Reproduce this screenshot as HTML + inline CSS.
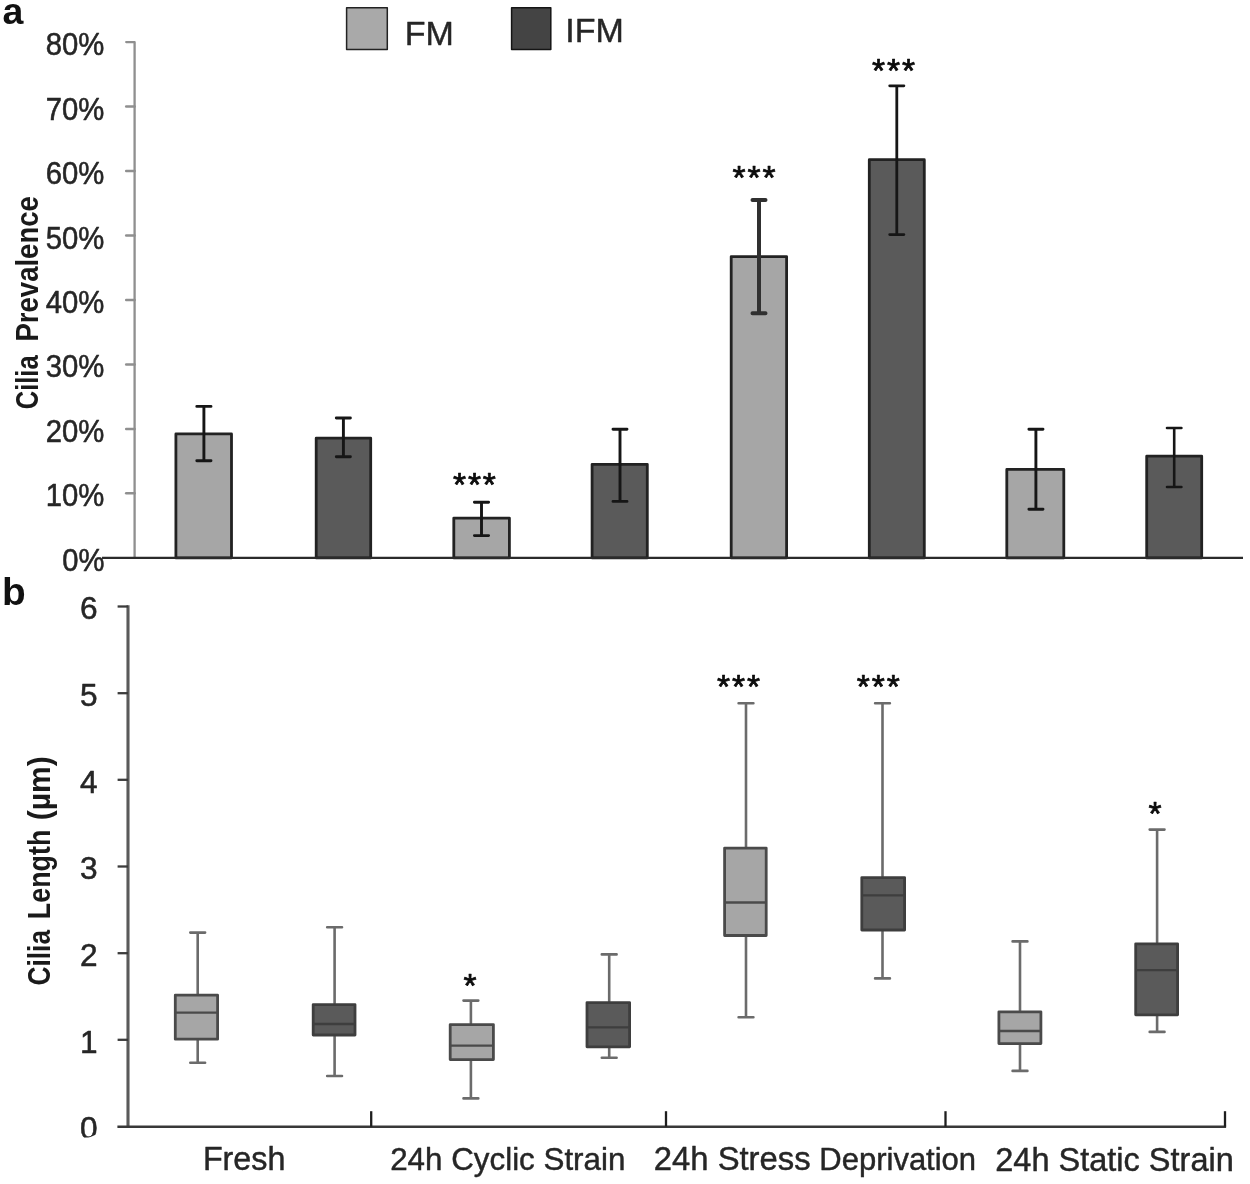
<!DOCTYPE html>
<html>
<head>
<meta charset="utf-8">
<title>Cilia prevalence and length</title>
<style>
html,body{margin:0;padding:0;background:#ffffff;}
body{width:1250px;height:1184px;overflow:hidden;position:relative;font-family:"Liberation Sans", sans-serif;}
</style>
</head>
<body>
<svg width="1250" height="1184" viewBox="0 0 1250 1184" style="display:block;position:absolute;left:0;top:0;filter:blur(0.55px)" stroke-linejoin="round" font-family='"Liberation Sans", sans-serif'>
<rect x="0" y="0" width="1250" height="1184" fill="#ffffff"/>
<g stroke="#8f8f8f" fill="none" stroke-linejoin="round" stroke-linecap="round">
<path d="M126.2 42.1H134.6V557.8" stroke-width="2.3"/>
<line x1="126.2" y1="106.6" x2="134.6" y2="106.6" stroke-width="2.5"/>
<line x1="126.2" y1="171.0" x2="134.6" y2="171.0" stroke-width="2.5"/>
<line x1="126.2" y1="235.5" x2="134.6" y2="235.5" stroke-width="2.5"/>
<line x1="126.2" y1="299.9" x2="134.6" y2="299.9" stroke-width="2.5"/>
<line x1="126.2" y1="364.4" x2="134.6" y2="364.4" stroke-width="2.5"/>
<line x1="126.2" y1="428.9" x2="134.6" y2="428.9" stroke-width="2.5"/>
<line x1="126.2" y1="493.3" x2="134.6" y2="493.3" stroke-width="2.5"/>
</g>
<g fill="#262626" stroke="#262626" stroke-width="0.55" font-size="31.4" text-anchor="end">
<text x="104.4" y="55.1" textLength="58.6" lengthAdjust="spacingAndGlyphs">80%</text>
<text x="104.4" y="119.6" textLength="58.6" lengthAdjust="spacingAndGlyphs">70%</text>
<text x="104.4" y="184.0" textLength="58.6" lengthAdjust="spacingAndGlyphs">60%</text>
<text x="104.4" y="248.5" textLength="58.6" lengthAdjust="spacingAndGlyphs">50%</text>
<text x="104.4" y="312.9" textLength="58.6" lengthAdjust="spacingAndGlyphs">40%</text>
<text x="104.4" y="377.4" textLength="58.6" lengthAdjust="spacingAndGlyphs">30%</text>
<text x="104.4" y="441.9" textLength="58.6" lengthAdjust="spacingAndGlyphs">20%</text>
<text x="104.4" y="506.3" textLength="58.6" lengthAdjust="spacingAndGlyphs">10%</text>
<text x="104.4" y="570.8" textLength="42.2" lengthAdjust="spacingAndGlyphs">0%</text>
</g>
<rect x="175.9" y="433.9" width="55.6" height="124.0" fill="#a6a6a6" stroke="#222222" stroke-width="2.8"/>
<rect x="316.2" y="438.2" width="54.5" height="119.7" fill="#5a5a5a" stroke="#222222" stroke-width="2.8"/>
<rect x="453.8" y="518.1" width="55.6" height="39.8" fill="#a6a6a6" stroke="#222222" stroke-width="2.8"/>
<rect x="592.1" y="464.3" width="55.2" height="93.6" fill="#5a5a5a" stroke="#222222" stroke-width="2.8"/>
<rect x="731.2" y="256.6" width="55.4" height="301.3" fill="#a6a6a6" stroke="#222222" stroke-width="2.8"/>
<rect x="869.3" y="159.7" width="55.0" height="398.2" fill="#5a5a5a" stroke="#222222" stroke-width="2.8"/>
<rect x="1006.8" y="469.4" width="57.0" height="88.5" fill="#a6a6a6" stroke="#222222" stroke-width="2.8"/>
<rect x="1146.7" y="456.2" width="55.0" height="101.7" fill="#5a5a5a" stroke="#222222" stroke-width="2.8"/>
<line x1="102" y1="557.8" x2="1243" y2="557.8" stroke="#2b2b2b" stroke-width="2.2"/>
<g fill="none" stroke-linecap="round">
<path d="M196.8 406.4H211.0M196.8 460.7H211.0M203.9 406.4V460.7" stroke="#161616" stroke-width="2.9"/>
<path d="M336.3 418.0H350.4M336.3 456.8H350.4M343.4 418.0V456.8" stroke="#161616" stroke-width="2.9"/>
<path d="M474.4 502.3H488.6M474.4 535.6H488.6M481.5 502.3V535.6" stroke="#161616" stroke-width="2.9"/>
<path d="M613.0 429.2H627.0M613.0 501.4H627.0M620.0 429.2V501.4" stroke="#161616" stroke-width="2.9"/>
<path d="M752.5 200.1H765.5M752.5 313.2H765.5M759.0 200.1V313.2" stroke="#303030" stroke-width="4.0"/>
<path d="M889.7 85.8H903.9M889.7 234.6H903.9M896.8 85.8V234.6" stroke="#161616" stroke-width="2.8"/>
<path d="M1028.9 429.2H1043.0M1028.9 509.2H1043.0M1035.9 429.2V509.2" stroke="#161616" stroke-width="2.9"/>
<path d="M1167.0 428.0H1181.4M1167.0 487.0H1181.4M1174.2 428.0V487.0" stroke="#161616" stroke-width="2.6"/>
</g>
<text x="452.9" y="496.1" font-size="33.5" letter-spacing="1.95" fill="#0c0c0c" stroke="#0c0c0c" stroke-width="0.75">***</text>
<text x="732.6" y="189.3" font-size="33.5" letter-spacing="1.95" fill="#0c0c0c" stroke="#0c0c0c" stroke-width="0.75">***</text>
<text x="872.1" y="81.9" font-size="33.5" letter-spacing="1.95" fill="#0c0c0c" stroke="#0c0c0c" stroke-width="0.75">***</text>
<rect x="346.6" y="7.7" width="40.7" height="41.7" fill="#a9a9a9" stroke="#222222" stroke-width="1.5"/>
<rect x="511.6" y="7.7" width="39.2" height="41.7" fill="#444444" stroke="#151515" stroke-width="1.5"/>
<text x="404.8" y="45.2" font-size="34" fill="#262626" stroke="#262626" stroke-width="0.45">FM</text>
<text x="565.3" y="41.9" font-size="34" fill="#262626" stroke="#262626" stroke-width="0.45">IFM</text>
<text x="2.6" y="23.9" font-size="37.5" font-weight="bold" fill="#111">a</text>
<text x="2.0" y="605.3" font-size="38.8" font-weight="bold" fill="#111">b</text>
<text transform="translate(38.0,409.3) rotate(-90)" font-size="31.5" font-weight="bold" fill="#1a1a1a" textLength="54.0" lengthAdjust="spacingAndGlyphs">Cilia</text>
<text transform="translate(38.0,341.6) rotate(-90)" font-size="31.5" font-weight="bold" fill="#1a1a1a" textLength="145.5" lengthAdjust="spacingAndGlyphs">Prevalence</text>
<text transform="translate(49.6,985.5) rotate(-90)" font-size="31.5" font-weight="bold" fill="#1a1a1a" textLength="55.5" lengthAdjust="spacingAndGlyphs">Cilia</text>
<text transform="translate(49.6,919.2) rotate(-90)" font-size="31.5" font-weight="bold" fill="#1a1a1a" textLength="89.5" lengthAdjust="spacingAndGlyphs">Length</text>
<text transform="translate(49.6,820.2) rotate(-90)" font-size="31.5" font-weight="bold" fill="#1a1a1a" textLength="64.0" lengthAdjust="spacingAndGlyphs">(µm)</text>
<g fill="none" stroke-linecap="butt">
<line x1="128.0" y1="605.3" x2="128.0" y2="1126.7" stroke="#5a5a5a" stroke-width="3.1"/>
<line x1="117.6" y1="606.5" x2="128.0" y2="606.5" stroke="#3c3c3c" stroke-width="2.3"/>
<line x1="117.6" y1="693.2" x2="128.0" y2="693.2" stroke="#3c3c3c" stroke-width="2.3"/>
<line x1="117.6" y1="779.8" x2="128.0" y2="779.8" stroke="#3c3c3c" stroke-width="2.3"/>
<line x1="117.6" y1="866.5" x2="128.0" y2="866.5" stroke="#3c3c3c" stroke-width="2.3"/>
<line x1="117.6" y1="953.2" x2="128.0" y2="953.2" stroke="#3c3c3c" stroke-width="2.3"/>
<line x1="117.6" y1="1039.8" x2="128.0" y2="1039.8" stroke="#3c3c3c" stroke-width="2.3"/>
<line x1="117.4" y1="1126.7" x2="1226.1" y2="1126.7" stroke="#383838" stroke-width="2.6"/>
<line x1="371.2" y1="1111.2" x2="371.2" y2="1126.7" stroke="#1e1e1e" stroke-width="2.3"/>
<line x1="666.0" y1="1111.2" x2="666.0" y2="1126.7" stroke="#1e1e1e" stroke-width="2.3"/>
<line x1="945.5" y1="1111.2" x2="945.5" y2="1126.7" stroke="#1e1e1e" stroke-width="2.3"/>
<line x1="1225.0" y1="1111.2" x2="1225.0" y2="1126.7" stroke="#1e1e1e" stroke-width="2.3"/>
</g>
<clipPath id="clip0"><rect x="0" y="0" width="1250" height="1137.6"/></clipPath>
<g fill="#262626" stroke="#262626" stroke-width="0.55" font-size="31.6" text-anchor="middle" clip-path="url(#clip0)">
<text x="88.8" y="619.2">6</text>
<text x="88.8" y="705.9">5</text>
<text x="88.8" y="792.5">4</text>
<text x="88.8" y="879.2">3</text>
<text x="88.8" y="965.9">2</text>
<text x="88.8" y="1052.5">1</text>
<text x="88.8" y="1139.2">0</text>
</g>
<polygon points="87.0,1138.6 98.5,1138.6 98.5,1133.4" fill="#ffffff"/>
<path d="M197.7 932.6V993.8M197.7 1040.6V1062.7M190.3 932.6H205.1M190.3 1062.7H205.1" stroke="#6b6b6b" stroke-width="2.6" fill="none" stroke-linecap="round"/>
<rect x="175.3" y="995.2" width="42.3" height="44.0" fill="#a6a6a6" stroke="#4a4a4a" stroke-width="2.8"/>
<line x1="174.9" y1="1012.6" x2="218.0" y2="1012.6" stroke="#4a4a4a" stroke-width="2.4"/>
<path d="M334.6 927.2V1003.2M334.6 1036.4V1076.0M327.2 927.2H342.0M327.2 1076.0H342.0" stroke="#6b6b6b" stroke-width="2.6" fill="none" stroke-linecap="round"/>
<rect x="313.2" y="1004.6" width="41.8" height="30.4" fill="#5a5a5a" stroke="#3e3e3e" stroke-width="2.8"/>
<line x1="312.8" y1="1024.0" x2="355.4" y2="1024.0" stroke="#3e3e3e" stroke-width="2.4"/>
<path d="M470.9 1000.6V1023.2M470.9 1061.0V1098.4M463.5 1000.6H478.3M463.5 1098.4H478.3" stroke="#6b6b6b" stroke-width="2.6" fill="none" stroke-linecap="round"/>
<rect x="450.2" y="1024.6" width="43.2" height="35.0" fill="#a6a6a6" stroke="#4a4a4a" stroke-width="2.8"/>
<line x1="449.8" y1="1045.6" x2="493.8" y2="1045.6" stroke="#4a4a4a" stroke-width="2.4"/>
<path d="M609.2 954.4V1001.2M609.2 1048.2V1057.8M601.8 954.4H616.6M601.8 1057.8H616.6" stroke="#6b6b6b" stroke-width="2.6" fill="none" stroke-linecap="round"/>
<rect x="587.0" y="1002.6" width="42.6" height="44.2" fill="#5a5a5a" stroke="#3e3e3e" stroke-width="2.8"/>
<line x1="586.6" y1="1027.4" x2="630.0" y2="1027.4" stroke="#3e3e3e" stroke-width="2.4"/>
<path d="M746.0 703.3V846.7M746.0 936.9V1017.2M738.6 703.3H753.4M738.6 1017.2H753.4" stroke="#6b6b6b" stroke-width="2.6" fill="none" stroke-linecap="round"/>
<rect x="724.6" y="848.1" width="41.6" height="87.4" fill="#a6a6a6" stroke="#4a4a4a" stroke-width="2.8"/>
<line x1="724.2" y1="902.5" x2="766.6" y2="902.5" stroke="#4a4a4a" stroke-width="2.4"/>
<path d="M882.5 703.3V876.2M882.5 931.4V978.4M875.1 703.3H889.9M875.1 978.4H889.9" stroke="#6b6b6b" stroke-width="2.6" fill="none" stroke-linecap="round"/>
<rect x="861.8" y="877.6" width="42.8" height="52.4" fill="#5a5a5a" stroke="#3e3e3e" stroke-width="2.8"/>
<line x1="861.4" y1="895.4" x2="905.0" y2="895.4" stroke="#3e3e3e" stroke-width="2.4"/>
<path d="M1020.0 941.4V1010.4M1020.0 1045.0V1070.9M1012.6 941.4H1027.4M1012.6 1070.9H1027.4" stroke="#6b6b6b" stroke-width="2.6" fill="none" stroke-linecap="round"/>
<rect x="998.9" y="1011.8" width="42.0" height="31.8" fill="#a6a6a6" stroke="#4a4a4a" stroke-width="2.8"/>
<line x1="998.5" y1="1031.0" x2="1041.3" y2="1031.0" stroke="#4a4a4a" stroke-width="2.4"/>
<path d="M1157.1 829.6V942.4M1157.1 1016.2V1031.9M1149.7 829.6H1164.5M1149.7 1031.9H1164.5" stroke="#6b6b6b" stroke-width="2.6" fill="none" stroke-linecap="round"/>
<rect x="1135.7" y="943.8" width="41.9" height="71.0" fill="#5a5a5a" stroke="#3e3e3e" stroke-width="2.8"/>
<line x1="1135.3" y1="970.1" x2="1178.0" y2="970.1" stroke="#3e3e3e" stroke-width="2.4"/>
<text x="463.6" y="997.3" font-size="33.5" letter-spacing="1.95" fill="#0c0c0c" stroke="#0c0c0c" stroke-width="0.75">*</text>
<text x="717.1" y="698.4" font-size="33.5" letter-spacing="1.95" fill="#0c0c0c" stroke="#0c0c0c" stroke-width="0.75">***</text>
<text x="856.7" y="698.4" font-size="33.5" letter-spacing="1.95" fill="#0c0c0c" stroke="#0c0c0c" stroke-width="0.75">***</text>
<text x="1148.6" y="825.3" font-size="33.5" letter-spacing="1.95" fill="#0c0c0c" stroke="#0c0c0c" stroke-width="0.75">*</text>
<g fill="#262626" stroke="#262626" stroke-width="0.45">
<text x="202.9" y="1170.3" font-size="32.3">Fresh</text>
<text x="390.2" y="1170.3" font-size="31.35">24h Cyclic Strain</text>
<text x="653.8" y="1170.3" font-size="32.8">24h Stress</text>
<text x="819.3" y="1170.3" font-size="31.0">Deprivation</text>
<text x="995.3" y="1170.8" font-size="32.5">24h Static Strain</text>
</g>
</svg>
</body>
</html>
